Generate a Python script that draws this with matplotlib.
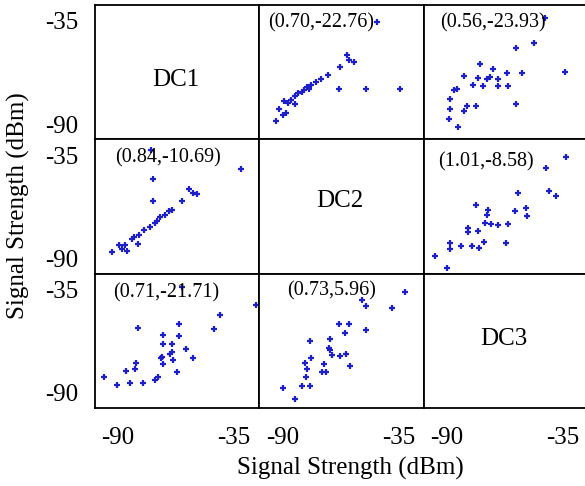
import matplotlib
matplotlib.use('Agg')
import matplotlib.pyplot as plt

plt.rcParams['font.family'] = ['Liberation Serif', 'DejaVu Serif']
plt.rcParams['axes.unicode_minus'] = False

names = ['DC1', 'DC2', 'DC3']
ticks = [-90, -35]

# (row, col) -> scatter of signal strength pairs
p01_x = [-45, -59.2, -58.4, -55.9, -62.9, -68.4, -71.7, -74.2, -76.7, -78.3, -80, -82.5, -84.2,
         -85.8, -87.5, -89.2, -63.3, -50.3, -34.2, -91.7, -90, -93.3, -88.3, -84, -80.8, -77.5]
p01_y = [-35.4, -53.3, -56, -56.8, -59.5, -63.8, -66.1, -67.3, -69, -70.3, -71.7, -73.4, -75.2,
         -76.9, -78.6, -77.8, -71.3, -71.3, -71.3, -82.1, -84.8, -88.3, -83.9, -79, -73, -71]
p01_r = '(0.70,-22.76)'

p02_x = [-43.3, -57, -48.8, -74.2, -68.3, -81.7, -75, -70.8, -69.7, -65.5, -61.3, -54.2, -33.7,
         -77.5, -73, -65.5, -61.2, -85, -86.7, -88.3, -80.3, -76.3, -81.7, -57, -88.3, -89.2, -84.7]
p02_y = [-33.3, -49.3, -46.9, -57.7, -60.8, -64.3, -65.5, -66.1, -65, -65.7, -62.9, -62.9, -61.9,
         -69.2, -69.6, -69.6, -69.6, -71.3, -72, -76.5, -80, -80, -83, -79, -82.1, -87, -91.7]
p02_r = '(0.56,-23.93)'

p10_x = [-74.3, -31.7, -73.5, -56.3, -54.6, -52.7, -73.5, -59.9, -64.5, -66.1, -67.7, -70.2, -71.8,
         -72.7, -75.1, -77.6, -80, -82.5, -83.3, -80.8, -86.6, -88.2, -89.8, -93.1, -85.7]
p10_y = [-32.1, -42.1, -47.5, -53, -54.8, -55.7, -59.4, -59.4, -63.9, -64.8, -66.6, -68.1, -69.9,
         -71.1, -73, -74.8, -77.5, -78.4, -79.3, -82, -82.9, -84.7, -82.9, -86.6, -85.7]
p10_r = '(0.84,-10.69)'

p12_x = [-33.3, -43, -41.7, -38, -56.3, -76.3, -70.5, -70.8, -57.5, -52.2, -52, -71.7, -69.2, -65.8,
         -60.8, -80, -80, -75.3, -72.5, -62, -88.3, -88.3, -83.3, -78, -74.5, -95.5, -90]
p12_y = [-35.7, -41.7, -54.2, -56.6, -54.8, -61.7, -64.2, -67, -64.8, -63, -67.5, -71.1, -71.3, -72,
         -71.7, -73.8, -76, -75.3, -81.1, -81.7, -81.7, -85.1, -83.4, -83.2, -84.1, -88.7, -95]
p12_r = '(1.01,-8.58)'

p20_x = [-59.9, -24.8, -41.5, -44.5, -80.5, -61.2, -61.2, -68.9, -68.9, -64.5, -57.9, -64.5, -65.3,
         -69.4, -69.7, -64, -54.6, -68.9, -81.7, -82, -86.1, -62.3, -71, -72.3, -96.7, -90.6, -84.6, -78.1]
p20_y = [-33.4, -43.1, -48.4, -55.8, -55.3, -53.2, -59.7, -59.3, -64.1, -64.1, -66.4, -68.2, -69,
         -70.8, -71.6, -72.2, -71.6, -74.7, -73.8, -77.5, -78.4, -79, -81.4, -83.1, -81.4, -85.8, -84.9, -84.9]
p20_r = '(0.71,-21.71)'

p21_x = [-31.7, -52.5, -50.3, -37.8, -63.3, -58.3, -60.3, -50.3, -77, -67.5, -67.8, -67.5, -66.7,
         -62.5, -60, -76.7, -79.5, -78.3, -78.8, -70.5, -71.2, -69.2, -57.8, -80.8, -77, -90, -84.2]
p21_y = [-36.1, -40.4, -43.6, -44.9, -53.1, -53.1, -58.1, -56.7, -62.5, -61.1, -65.8, -67.3, -69.9,
         -70.4, -69.5, -71.6, -74, -77, -81.7, -74.8, -78.7, -79, -75.7, -86.3, -86.3, -87.6, -93.4]
p21_r = '(0.73,5.96)'

panels = {
    (0, 1): (p01_x, p01_y, p01_r, (0.055, 0.87)),
    (0, 2): (p02_x, p02_y, p02_r, (0.10, 0.87)),
    (1, 0): (p10_x, p10_y, p10_r, (0.12, 0.86)),
    (1, 2): (p12_x, p12_y, p12_r, (0.085, 0.83)),
    (2, 0): (p20_x, p20_y, p20_r, (0.11, 0.86)),
    (2, 1): (p21_x, p21_y, p21_r, (0.17, 0.87)),
}
dc_pos = [(0.49, 0.44), (0.49, 0.54), (0.49, 0.51)]

fig, axes = plt.subplots(3, 3, figsize=(5.85, 4.86), dpi=100)
fig.subplots_adjust(left=95/585, right=588/585, top=1-5/486, bottom=1-408/486,
                    wspace=0, hspace=0)

for i in range(3):
    for j in range(3):
        ax = axes[i, j]
        ax.set_xlim(-101, -23)
        ax.set_ylim(-98, -26.5)
        ax.set_xticks(ticks)
        ax.set_yticks(ticks)
        ax.tick_params(length=0, labelsize=18)
        ax.tick_params(axis='x', pad=14)
        ax.tick_params(axis='y', pad=12)
        for s in ax.spines.values():
            s.set_linewidth(1.3)
        if j != 0:
            ax.set_yticklabels([])
        if i != 2:
            ax.set_xticklabels([])
        if i == j:
            px, py = dc_pos[i]
            ax.text(px, py, names[i], transform=ax.transAxes, ha='center', va='center',
                    fontsize=18)
        else:
            x, y, r, (tx, ty) = panels[(i, j)]
            ax.plot(x, y, '+', color='#1f1fc8', ms=5, mew=1.6)
            ax.text(tx, ty, r, transform=ax.transAxes, ha='left', va='center',
                    fontsize=14.5)

fig.text(18/585, 1-206/486, 'Signal Strength (dBm)', rotation=90, ha='center', va='center',
         fontsize=18)
fig.text(350/585, 1-468/486, 'Signal Strength (dBm)', ha='center', va='center', fontsize=18)

fig.savefig('out.png', dpi=100)
